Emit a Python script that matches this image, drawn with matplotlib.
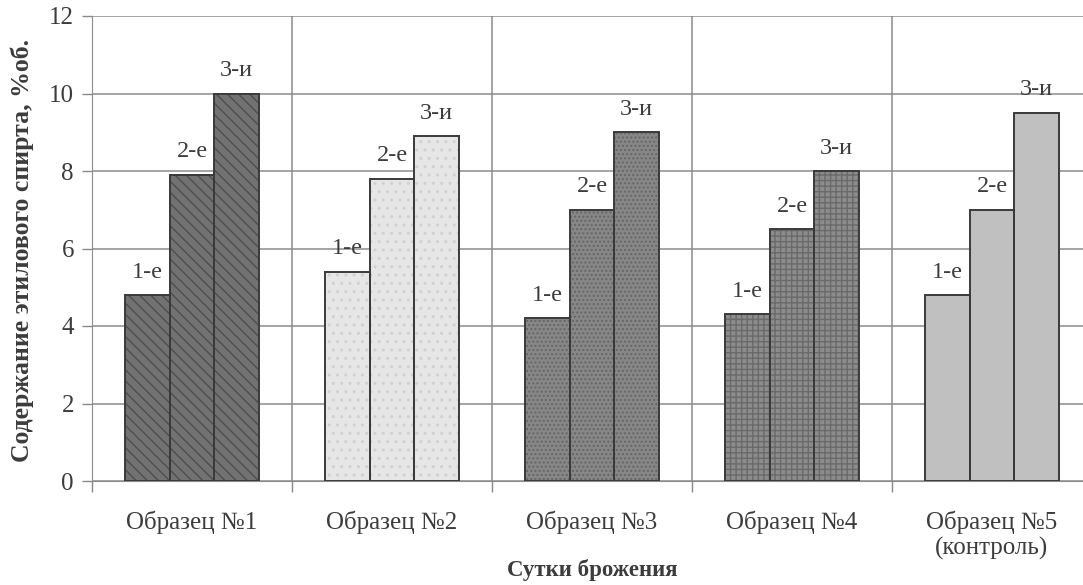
import matplotlib
matplotlib.use("Agg")
import matplotlib.pyplot as plt
import numpy as np

categories = ["Образец №1", "Образец №2", "Образец №3", "Образец №4", "Образец №5\n(контроль)"]
day_labels = ["1-е", "2-е", "3-и"]
day1 = [4.8, 5.4, 4.2, 4.3, 4.8]
day2 = [7.9, 7.8, 7.0, 6.5, 7.0]
day3 = [10.0, 8.9, 9.0, 8.0, 9.5]

fills = ["#727272", "#e6e6e6", "#878787", "#8c8c8c", "#c0c0c0"]
hatch_cols = ["#4e4e4e", "#d0d0d0", "#666666", "#6a6a6a", "#b2b2b2"]
hatches = ["\\\\\\", "..", "....", "+++", ""]

plt.rcParams['font.family'] = ['Liberation Serif', 'DejaVu Serif']
text_col = "#3c3c3c"

fig = plt.figure(figsize=(10.83, 5.85), dpi=100)
ax = fig.add_axes([92/1083, 1-481/585, 1000/1083, 465/585])

x = np.arange(len(categories))
w = 0.223
series = [day1, day2, day3]
for j, vals in enumerate(series):
    xs = x + (j - 1) * w
    for i in range(len(categories)):
        ax.bar(xs[i], vals[i], width=w, color=fills[i], edgecolor=hatch_cols[i],
               hatch=hatches[i], linewidth=0, zorder=3)
        ax.bar(xs[i], vals[i], width=w, fill=False, edgecolor="#3a3a3a",
               linewidth=1.4, zorder=4)
        ax.text(xs[i], vals[i] + 0.45, day_labels[j], ha="center", va="baseline",
                fontsize=17.5, color=text_col, zorder=5)

ax.set_xlim(-0.5, len(categories) - 0.5)
ax.set_ylim(0, 12)
ax.set_yticks(np.arange(0, 13, 2))
ax.set_xticks(np.arange(-0.5, len(categories), 1.0))
ax.set_xticklabels([])
ax.set_xticks(x, minor=True)
ax.set_xticklabels(categories, minor=True)
ax.tick_params(axis="x", which="minor", length=0, pad=21, labelsize=18, labelcolor=text_col)
ax.tick_params(axis="x", which="major", length=8, width=1, color="#888888", direction="out")
ax.tick_params(axis="y", length=7, width=1, color="#888888", labelsize=18, labelcolor=text_col, pad=6)

ax.grid(True, which="major", color="#8c8c8c", linewidth=1.1, zorder=0)
ax.set_axisbelow(True)
for s in ["top", "right"]:
    ax.spines[s].set_visible(False)
ax.spines["left"].set_color("#8c8c8c")
ax.spines["bottom"].set_color("#8c8c8c")

fig.text(22/1083, 1 - 250/585, "Содержание этилового спирта, %об.", rotation=90,
         ha="center", va="center", fontsize=18.5, fontweight="bold", color=text_col)
fig.text(592/1083, 1 - 570/585, "Сутки брожения", ha="center", va="center",
         fontsize=16.5, fontweight="bold", color=text_col)

fig.savefig("out.png", dpi=100)
